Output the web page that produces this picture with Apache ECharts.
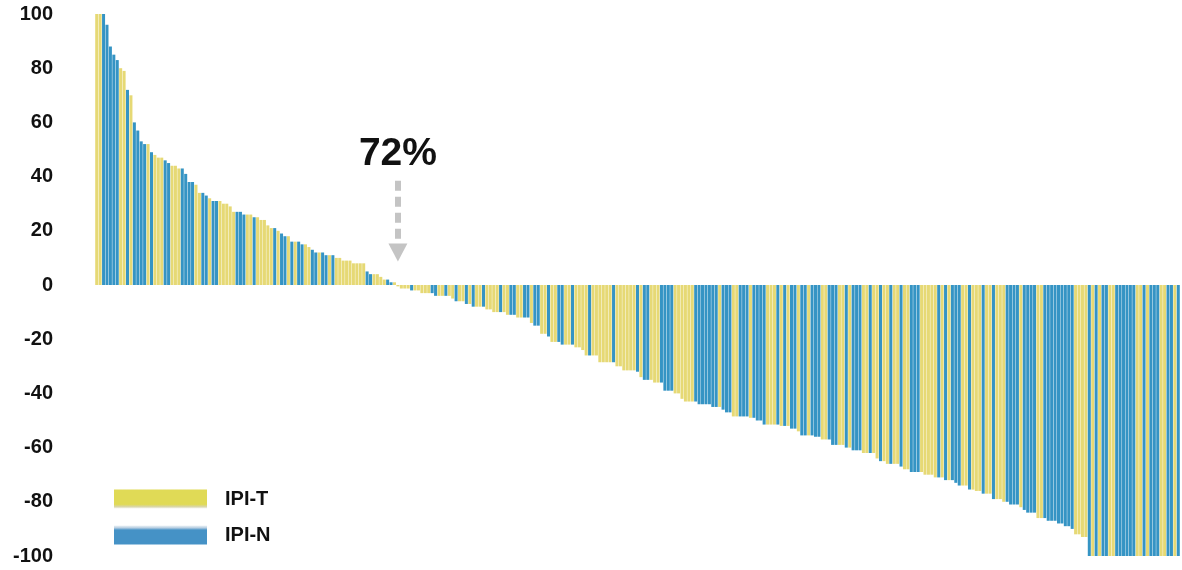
<!DOCTYPE html>
<html>
<head>
<meta charset="utf-8">
<script src="https://cdn.jsdelivr.net/npm/echarts@6/dist/echarts.min.js"></script>
<style>
  html, body { margin: 0; padding: 0; background: #ffffff; }
  #chart { width: 1182px; height: 570px; }
</style>
</head>
<body>
<div id="chart"></div>
<script>
// Best change from baseline per patient (%), sorted from largest increase to largest decrease
const values = [
  100, 100, 100, 96, 88, 85, 83, 80, 79, 72, 70, 60, 57, 53, 52, 52, 49, 48, 47, 47, 46, 45, 44, 44, 43, 43,
  41, 38, 38, 37, 34, 34, 33, 32, 31, 31, 31, 30, 30, 29, 27, 27, 27, 26, 26, 26, 25, 25, 24, 24, 22, 21, 21, 20, 19, 18,
  18, 16, 16, 16, 15, 15, 14, 13, 12, 12, 12, 11, 11, 11, 10, 10, 9, 9, 9, 8, 8, 8, 8, 5, 4, 4, 4,
  3, 2, 2, 1, 1, -0.5, -1.3, -1.3, -1.3, -2, -2, -2, -3, -3, -3, -3, -4, -4, -4, -4, -4, -5, -6, -6, -6, -7, -7,
  -8, -8, -8, -8, -9, -9, -10, -10, -10, -10, -11, -11, -11, -12, -12, -12, -12, -14, -15, -15, -18, -18, -19, -21, -21, -21, -22, -22, -22,
  -22, -23, -23, -24, -26, -26, -26, -26, -28.5, -28.5, -28.5, -28.5, -28.5, -30, -30, -31.5, -31.5, -31.5, -31.5, -32, -34, -35, -35, -35, -36, -36, -36,
  -39, -39, -39, -40, -40, -42, -43, -43, -43, -43, -44, -44, -44, -44, -45, -45, -45, -46, -47, -47, -48.5, -48.5, -48.5, -48.5, -48.5, -49, -49, -50,
  -50, -51.5, -51.5, -51.5, -51.5, -51.5, -52, -52, -52, -53, -53, -54, -55.5, -55.5, -55.5, -55.5, -56, -56, -57, -57, -57, -59, -59, -59, -59, -60, -60, -61,
  -61, -61, -62, -62, -62, -62, -64, -65, -65, -66, -66, -66, -66, -67, -68, -68, -69, -69, -69, -69, -70, -70, -70, -71, -71, -71,
  -72, -72, -72, -73, -74, -74, -74, -75.5, -75.5, -76, -76, -77, -77, -77, -79, -79, -79, -80, -80, -81, -81, -81, -82, -83, -84, -84, -84, -86, -86,
  -86, -87, -87, -87, -88, -88, -89, -89, -90, -92, -92, -93, -93,
  -100, -100, -100, -100, -100, -100, -100, -100, -100, -100, -100, -100, -100, -100, -100, -100, -100, -100, -100, -100, -100, -100, -100, -100, -100, -100, -100
];

// Treatment arm of each patient: T = IPI-T, N = IPI-N
const groups = [
  'T','T','N','N','N','N','N','T','T','N','T','N','N','N','N','T','N','T','T','T','N','N','T','T','T','N',
  'N','N','N','T','T','N','N','T','N','N','T','T','T','T','T','N','N','N','T','T','N','T','T','T','T','T','N','T','N','N',
  'T','N','T','N','N','T','T','N','N','T','N','N','T','N','T','T','T','T','T','T','T','T','T','N','N','T','T',
  'T','T','N','N','T','T','T','T','T','N','T','T','T','T','T','N','N','T','T','N','T','T','N','T','T','N','T',
  'N','T','T','N','T','T','T','T','N','T','T','N','N','T','T','N','N','T','N','N','T','T','N','T','T','N','N','T','T',
  'N','T','T','T','T','N','T','T','T','T','T','T','N','T','T','T','T','T','T','N','T','N','N','T','T','T','N',
  'N','N','N','T','T','T','T','T','T','N','N','N','N','N','N','N','T','N','N','N','T','T','N','N','N','T','N','N',
  'N','N','T','T','T','N','T','N','T','N','N','T','N','N','T','N','N','N','T','T','N','N','N','T','T','N','T','N',
  'N','N','T','T','N','T','T','N','T','T','N','T','T','N','T','T','N','N','N','T','T','T','T','T','N','T',
  'N','T','N','N','N','T','T','N','T','T','T','N','T','T','N','T','T','T','N','N','N','N','T','N','N','N','N','T','T',
  'N','N','N','N','N','N','N','N','N','T','T','T','T',
  'N','T','N','T','N','N','T','T','N','N','N','N','N','N','T','T','N','T','N','N','N','T','T','N','N','T','N'
];

const seriesNames = ['IPI-T', 'IPI-N'];
const seriesKeys = ['T', 'N'];
const yTicks = [-100, -80, -60, -40, -20, 0, 20, 40, 60, 80, 100];

// Share of patients whose change is at or below zero
const annotationText = '72%';
const annotationIndex = 88;
const arrowFrom = 38.5;
const arrowTo = 12;

const barColors = ['#E6D975', '#3594C4'];

const categories = values.map((_, i) => 'P' + (i + 1));
const seriesData = seriesKeys.map(k => values.map((v, i) => (groups[i] === k ? v : '-')));

const legendSwatches = [
  new echarts.graphic.LinearGradient(0, 0, 0, 1, [
    { offset: 0, color: '#E0DA56' },
    { offset: 0.78, color: '#E0DA56' },
    { offset: 0.9, color: '#D9D6A6' },
    { offset: 1, color: '#F4F4EE' }
  ]),
  new echarts.graphic.LinearGradient(0, 0, 0, 1, [
    { offset: 0, color: '#EEF3F7' },
    { offset: 0.12, color: '#B9CFE2' },
    { offset: 0.24, color: '#4592C6' },
    { offset: 1, color: '#4592C6' }
  ])
];

const chart = echarts.init(document.getElementById('chart'), null, { renderer: 'canvas' });

chart.setOption({
  animation: false,
  backgroundColor: '#ffffff',
  grid: { left: 95, right: 2, top: 14, bottom: 14, containLabel: false },
  legend: {
    orient: 'vertical',
    left: 109,
    top: 484,
    itemWidth: 93,
    itemHeight: 19,
    itemGap: 16,
    icon: 'rect',
    selectedMode: false,
    textStyle: {
      fontFamily: 'Liberation Sans, Arial, sans-serif',
      fontWeight: 'bold',
      fontSize: 20,
      color: '#111111',
      padding: [4, 0, 0, 13]
    },
    data: seriesNames.map((n, i) => ({ name: n, itemStyle: { color: legendSwatches[i] } }))
  },
  xAxis: {
    type: 'category',
    data: categories,
    axisLine: { show: false },
    axisTick: { show: false },
    axisLabel: { show: false },
    splitLine: { show: false }
  },
  yAxis: {
    type: 'value',
    min: yTicks[0],
    max: yTicks[yTicks.length - 1],
    interval: yTicks[1] - yTicks[0],
    axisLine: { show: false },
    axisTick: { show: false },
    splitLine: { show: false },
    axisLabel: {
      margin: 42,
      padding: [4, 0, 0, 0],
      fontFamily: 'Liberation Sans, Arial, sans-serif',
      fontWeight: 'bold',
      fontSize: 20,
      color: '#111111'
    }
  },
  series: seriesNames.map((name, s) => ({
    name: name,
    type: 'bar',
    data: seriesData[s],
    barGap: '-100%',
    barCategoryGap: '12%',
    itemStyle: { color: barColors[s] },
    silent: true,
    markLine: s === 0 ? {
      silent: true,
      symbol: ['none', 'triangle'],
      symbolSize: [19, 18],
      lineStyle: { color: '#C4C4C4', width: 6, type: [10, 6], cap: 'butt' },
      itemStyle: { color: '#C4C4C4' },
      label: {
        show: true,
        position: 'start',
        formatter: annotationText,
        distance: 7,
        fontFamily: 'Liberation Sans, Arial, sans-serif',
        fontWeight: 'bold',
        fontSize: 39,
        color: '#111111'
      },
      data: [[
        { coord: [annotationIndex, arrowFrom] },
        { coord: [annotationIndex, arrowTo] }
      ]]
    } : undefined
  }))
});
</script>
</body>
</html>
